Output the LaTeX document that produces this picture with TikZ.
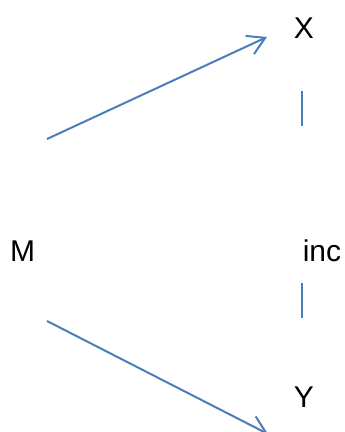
\documentclass[tikz,border=0pt]{standalone}
\usepackage{fontspec}
\setmainfont{Liberation Sans}
\usetikzlibrary{arrows.meta}
\definecolor{lineblue}{RGB}{74,126,187}
\begin{document}
\begin{tikzpicture}[x=1pt,y=1pt,
  lbl/.style={inner sep=0pt,font=\fontsize{30}{36}\selectfont},
  arr/.style={draw=lineblue,line width=2pt,-{Straight Barb[length=17pt,width=20pt,line width=2pt]}},
  tick/.style={draw=lineblue,line width=1.6pt}]
\useasboundingbox (0,0) rectangle (345,432);
\clip (0,0) rectangle (345,432);
\node[lbl,anchor=base] (X) at (304,393) {X};
\node[lbl,anchor=base] (M) at (22.5,170) {M};
\node[lbl,anchor=base] (inc) at (322,170) {inc};
\node[lbl,anchor=base] (Y) at (304,24) {Y};
\coordinate (a1s) at (47,293);
\coordinate (a1e) at (267,395);
\coordinate (a2s) at (47,111);
\coordinate (a2e) at (268,-2);
\coordinate (t1a) at (302,341);
\coordinate (t1b) at (302,306);
\coordinate (t2a) at (302,149);
\coordinate (t2b) at (302,114);
\draw[arr] (a1s) -- (a1e);
\draw[arr] (a2s) -- (a2e);
\draw[tick] (t1a) -- (t1b);
\draw[tick] (t2a) -- (t2b);
\end{tikzpicture}
\end{document}
